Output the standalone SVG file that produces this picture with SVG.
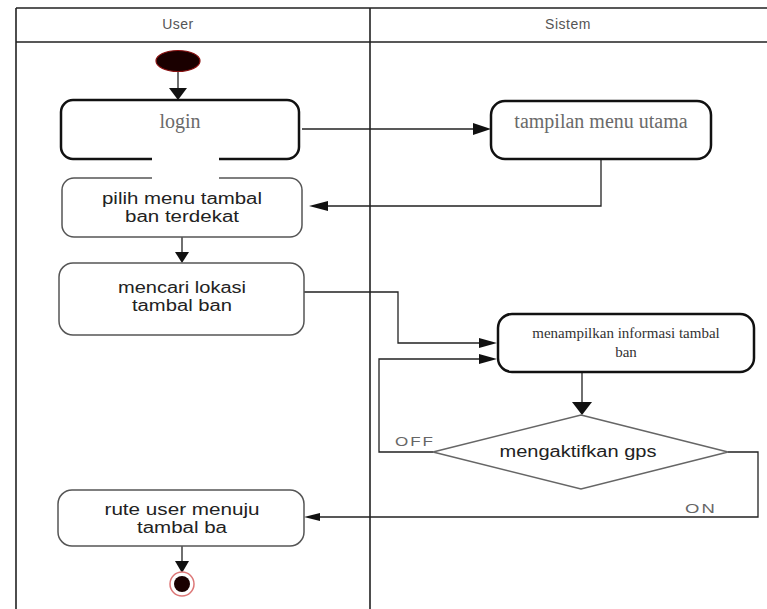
<svg xmlns="http://www.w3.org/2000/svg" width="767" height="609" viewBox="0 0 767 609">
<style>
.lane{stroke:#222;stroke-width:1.6;fill:none}
.hdr{font-family:"Liberation Sans",Arial,sans-serif;font-size:14px;fill:#555;text-anchor:middle;letter-spacing:0.5px}
.bold{fill:#fff;stroke:#111;stroke-width:2.5}
.soft{fill:#fff;stroke:#555;stroke-width:1.5}
.serif{font-family:"Liberation Serif","Times New Roman",serif;fill:#6a6a6a;text-anchor:middle}
.sans{font-family:"Liberation Sans",Arial,sans-serif;font-size:16px;fill:#222;text-anchor:middle}
.lbl{font-family:"Liberation Sans",Arial,sans-serif;font-size:13px;fill:#666;letter-spacing:1.5px}
.con{fill:none;stroke:#222;stroke-width:1.3}
.head{fill:#111}
</style>
<rect width="767" height="609" fill="#fff"/>
<g id="swimlanes">
<path class="lane" d="M16 8H767M16 42H767M16 8V609M370 8V609"/>
<text class="hdr" x="178" y="29">User</text>
<text class="hdr" x="568" y="29">Sistem</text>
</g>
<g id="connectors">
<path class="con" d="M178 71V90" stroke-width="2"/>
<polygon class="head" points="169,88 187,88 178,100"/>
<path class="con" d="M302 129H475"/>
<polygon class="head" points="473,123 491,129 473,135"/>
<path class="con" d="M601 159V206H326"/>
<polygon class="head" points="328,201 309,206 328,211"/>
<path class="con" d="M182 237V254" stroke-width="2"/>
<polygon class="head" points="175,252 189,252 182,263"/>
<path class="con" d="M304 292H398V343H480"/>
<polygon class="head" points="479,338 497,343 479,348"/>
<path class="con" d="M433 452H379V359H480"/>
<polygon class="head" points="479,354 497,359 479,364"/>
<path class="con" d="M582 372V404" stroke-width="2"/>
<polygon class="head" points="572,402 592,402 582,415"/>
<path class="con" d="M728 452H758V517H318"/>
<polygon class="head" points="320,513 304,517 320,521"/>
<path class="con" d="M182 546V563" stroke-width="1.6"/>
<polygon class="head" points="175,561 189,561 182,573"/>
<text class="lbl" x="395" y="446" textLength="40" lengthAdjust="spacingAndGlyphs">OFF</text>
<text class="lbl" x="685" y="513" textLength="32" lengthAdjust="spacingAndGlyphs">ON</text>
</g>
<g id="start">
<ellipse cx="178" cy="61" rx="22" ry="10.5" fill="#1a0000" stroke="#8a1010" stroke-width="1.2"/>
</g>
<g id="login">
<rect class="bold" x="61" y="100" width="238" height="59" rx="12" stroke-width="2"/>
<text class="serif" x="180" y="128" font-size="20">login</text>
</g>
<g id="pilih">
<rect class="soft" x="62" y="178" width="240" height="59" rx="12"/>
<text class="sans" x="182" y="204" textLength="160" lengthAdjust="spacingAndGlyphs">pilih menu tambal</text>
<text class="sans" x="182" y="222" textLength="114" lengthAdjust="spacingAndGlyphs">ban terdekat</text>
</g>
<rect x="152" y="157" width="67" height="23" fill="#fff"/>
<g id="tampilan">
<rect class="bold" x="491" y="101" width="220" height="58" rx="14"/>
<text class="serif" x="601" y="128" font-size="20">tampilan menu utama</text>
</g>
<g id="mencari">
<rect class="soft" x="59" y="263" width="245" height="72" rx="14"/>
<text class="sans" x="182" y="293" textLength="128" lengthAdjust="spacingAndGlyphs">mencari lokasi</text>
<text class="sans" x="182" y="311" textLength="100" lengthAdjust="spacingAndGlyphs">tambal ban</text>
</g>
<g id="menampilkan">
<rect class="bold" x="498" y="314" width="256" height="58" rx="14"/>
<text class="serif" x="626" y="338" font-size="15" style="fill:#333">menampilkan informasi tambal</text>
<text class="serif" x="626" y="357" font-size="15" style="fill:#333">ban</text>
</g>
<g id="gps">
<polygon points="581,415 728,452 581,489 433,452" fill="#fff" stroke="#666" stroke-width="1.5"/>
<text class="sans" x="578" y="457" textLength="157" lengthAdjust="spacingAndGlyphs">mengaktifkan gps</text>
</g>
<g id="rute">
<rect class="soft" x="58" y="490" width="246" height="56" rx="14"/>
<text class="sans" x="182" y="515" textLength="155" lengthAdjust="spacingAndGlyphs">rute user menuju</text>
<text class="sans" x="182" y="533" textLength="90" lengthAdjust="spacingAndGlyphs">tambal ba</text>
</g>
<g id="end">
<circle cx="182" cy="584" r="12" fill="#fff" stroke="#d77" stroke-width="1.5"/>
<circle cx="182" cy="584" r="8" fill="#1a0000"/>
</g>
</svg>
